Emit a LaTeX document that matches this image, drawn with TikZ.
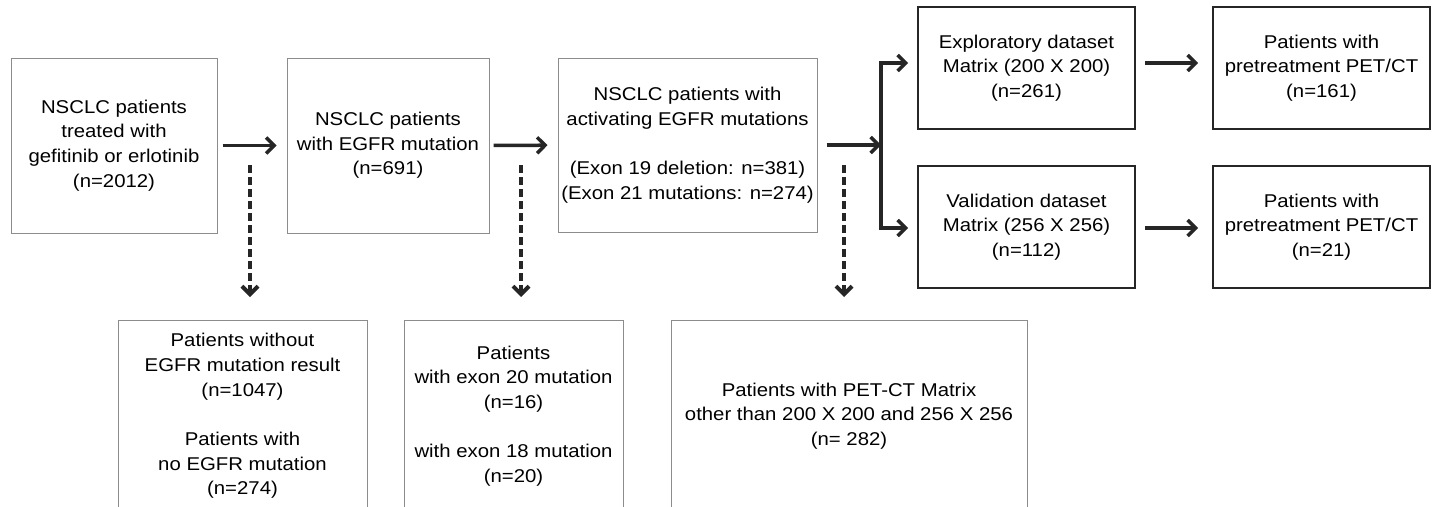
\documentclass[tikz,border=0pt]{standalone}
\usepackage{fontspec}
\setmainfont{Liberation Sans}[FakeStretch=1.1]
\usetikzlibrary{arrows.meta}

\tikzset{
    thinbox/.style={draw=black!45, line width=1pt, align=center, inner sep=0pt},
    thickbox/.style={draw=black!85, line width=2pt, align=center, inner sep=0pt},
    flowarrow/.style={draw=black!85, line width=3.5pt, -{Straight Barb[length=8pt,width=16pt]}},
    droparrow/.style={flowarrow, line width=4pt, dash pattern=on 8pt off 4pt},
}

\begin{document}
\begin{tikzpicture}[x=1pt, y=1pt, yscale=-1, font=\fontsize{18.5}{24.7}\selectfont]
    \useasboundingbox (0,0) rectangle (1432,506);
    \clip (0,0) rectangle (1432,506);

    % Define the positions of the boxes
    \coordinate (allPos) at (114, 145.5);
    \coordinate (egfrPos) at (388, 145.5);
    \coordinate (activePos) at (687.5, 145);
    \coordinate (explorePos) at (1026.5, 68);
    \coordinate (validPos) at (1026.5, 227);
    \coordinate (explorePetPos) at (1321.5, 68);
    \coordinate (validPetPos) at (1321.5, 227);
    \coordinate (noResultPos) at (242.5, 416);
    \coordinate (exonPos) at (513.5, 416);
    \coordinate (matrixPos) at (849, 416);

    % Draw the main boxes
    \node[thinbox, minimum width=206pt, minimum height=175pt] (all) at (allPos)
        {NSCLC patients\\treated with\\gefitinib or erlotinib\\(n=2012)};
    \node[thinbox, minimum width=202pt, minimum height=175pt] (egfr) at (egfrPos)
        {NSCLC patients\\with EGFR mutation\\(n=691)};
    \node[thinbox, minimum width=259pt, minimum height=174pt] (active) at (activePos)
        {NSCLC patients with\\activating EGFR mutations\\[\baselineskip](Exon 19 deletion: n=381)\\(Exon 21 mutations: n=274)};

    % Draw the dataset boxes
    \node[thickbox, minimum width=217pt, minimum height=122pt] (explore) at (explorePos)
        {Exploratory dataset\\Matrix (200 X 200)\\(n=261)};
    \node[thickbox, minimum width=217pt, minimum height=122pt] (valid) at (validPos)
        {Validation dataset\\Matrix (256 X 256)\\(n=112)};
    \node[thickbox, minimum width=217pt, minimum height=122pt] (explorePet) at (explorePetPos)
        {Patients with\\pretreatment PET/CT\\(n=161)};
    \node[thickbox, minimum width=217pt, minimum height=122pt] (validPet) at (validPetPos)
        {Patients with\\pretreatment PET/CT\\(n=21)};

    % Draw the excluded boxes
    \node[thinbox, minimum width=249pt, minimum height=192pt] (noResult) at (noResultPos)
        {Patients without\\EGFR mutation result\\(n=1047)\\[\baselineskip]Patients with\\no EGFR mutation\\(n=274)};
    \node[thinbox, minimum width=219pt, minimum height=192pt] (exon) at (exonPos)
        {Patients\\with exon 20 mutation\\(n=16)\\[\baselineskip]with exon 18 mutation\\(n=20)};
    \node[thinbox, minimum width=356pt, minimum height=192pt] (matrix) at (matrixPos)
        {Patients with PET-CT Matrix\\other than 200 X 200 and 256 X 256\\(n= 282)};

    % Branch points
    \coordinate (split) at (881, 145);
    \coordinate (upTurn) at (881, 63);
    \coordinate (downTurn) at (881, 228);

    % Draw the arrows
    \draw[flowarrow, shorten <=5pt, shorten >=10pt] (all) -- (egfr);
    \draw[flowarrow, shorten <=4pt, shorten >=10pt] (egfr) -- (active);
    \draw[flowarrow, shorten <=9pt] (active) -- (split);
    \draw[draw=black!85, line width=3.5pt] (upTurn) -- (downTurn);
    \draw[flowarrow, shorten >=9pt] ([xshift=-1.75pt]upTurn) -- (upTurn -| explore.west);
    \draw[flowarrow, shorten >=9pt] ([xshift=-1.75pt]downTurn) -- (downTurn -| valid.west);
    \draw[flowarrow, shorten <=9pt, shorten >=14pt] (explore.east |- upTurn) -- (explorePet.west |- upTurn);
    \draw[flowarrow, shorten <=9pt, shorten >=14pt] (valid.east |- downTurn) -- (validPet.west |- downTurn);

    % Draw the dashed drops
    \coordinate (drop1) at (250, 165);
    \coordinate (drop1End) at (250, 297);
    \coordinate (drop2) at (521, 165);
    \coordinate (drop2End) at (521, 297);
    \coordinate (drop3) at (844, 165);
    \coordinate (drop3End) at (844, 297);
    \draw[droparrow] (drop1) -- (drop1End);
    \draw[droparrow] (drop2) -- (drop2End);
    \draw[droparrow] (drop3) -- (drop3End);
\end{tikzpicture}
\end{document}
